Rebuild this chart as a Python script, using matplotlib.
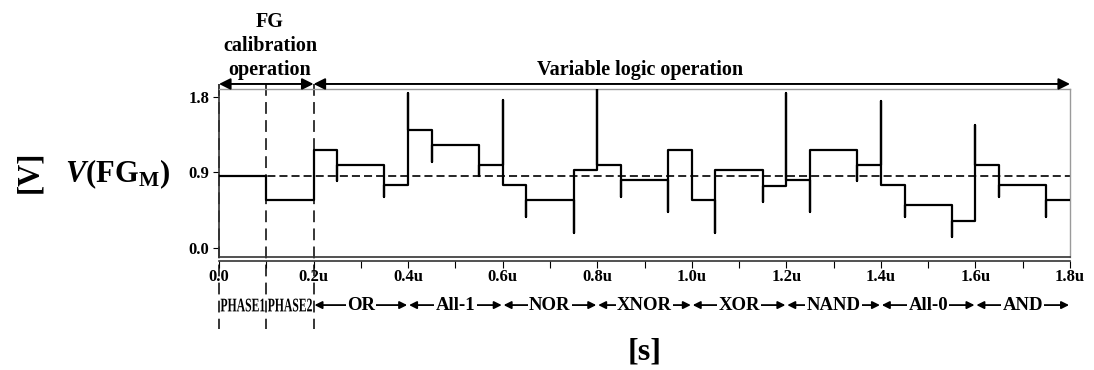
import numpy as np
import matplotlib
matplotlib.use("Agg")
import matplotlib.pyplot as plt
from matplotlib.ticker import FuncFormatter, MultipleLocator
from matplotlib.textpath import TextPath
from matplotlib.patches import PathPatch
from matplotlib.font_manager import FontProperties
from matplotlib.transforms import Affine2D, IdentityTransform

# step waveform (time in us)
edges = [0, 0.1, 0.2, 0.25, 0.35, 0.4, 0.45, 0.55, 0.6, 0.65, 0.75, 0.8, 0.85,
         0.95, 1.0, 1.05, 1.15, 1.2, 1.25, 1.35, 1.4, 1.45, 1.55, 1.6, 1.65, 1.75, 1.8]
levels = [0.86, 0.57, 1.16, 0.98, 0.75, 1.40, 1.22, 0.98, 0.75, 0.57, 0.93, 0.98, 0.81,
          1.16, 0.57, 0.93, 0.74, 0.81, 1.16, 0.98, 0.75, 0.51, 0.32, 0.98, 0.75, 0.57]
# glitch peaks at each inner edge (nan = none)
spikes = [np.nan, np.nan, 0.79, 0.61, 1.85, 1.02, 0.86, 1.76, 0.37, 0.18, 1.89, 0.61,
          0.42, np.nan, 0.18, 0.55, 1.84, 0.42, 0.79, 1.75, 0.37, 0.13, 1.46, 0.60, 0.37]
ref_level = 0.86

phase_bounds = [0.0, 0.1, 0.2]
phase_names = ['PHASE1', 'PHASE2']
op_bounds = [0.2, 0.4, 0.6, 0.8, 1.0, 1.2, 1.4, 1.6, 1.8]
op_names = ['OR', 'All-1', 'NOR', 'XNOR', 'XOR', 'NAND', 'All-0', 'AND']

plt.rcParams['font.family'] = ['Liberation Serif', 'DejaVu Serif']
plt.rcParams['font.weight'] = 'bold'
plt.rcParams['mathtext.fontset'] = 'custom'
plt.rcParams['mathtext.rm'] = 'Liberation Serif:bold'
plt.rcParams['mathtext.it'] = 'Liberation Serif:italic:bold'
plt.rcParams['mathtext.bf'] = 'Liberation Serif:bold'
plt.rcParams['lines.scale_dashes'] = False

fig = plt.figure(figsize=(10.94, 3.70), dpi=100)
ax = fig.add_axes([219 / 1094, 1 - 256.5 / 370, 851 / 1094, 167.5 / 370])

# build the waveform path
xs, ys = [edges[0]], [levels[0]]
for i, t in enumerate(edges[1:-1]):
    pk = levels[i] if np.isnan(spikes[i]) else spikes[i]
    xs += [t, t, t]
    ys += [levels[i], pk, levels[i + 1]]
xs.append(edges[-1])
ys.append(levels[-1])
ax.plot(xs, ys, color='black', lw=1.6, zorder=3)

ax.axhline(ref_level, color='black', lw=1.2, dashes=(5.8, 2.9), zorder=2)

ax.set_xlim(0, 1.8)
ax.set_ylim(-0.105, 1.892)

ax.xaxis.set_major_locator(MultipleLocator(0.2))
ax.xaxis.set_minor_locator(MultipleLocator(0.1))
ax.xaxis.set_major_formatter(FuncFormatter(lambda v, _: '0.0' if abs(v) < 1e-9 else f'{v:.1f}u'))
ax.set_yticks([0.0, 0.9, 1.8])
ax.yaxis.set_major_formatter(FuncFormatter(lambda v, _: f'{v:.1f}'))
ax.tick_params(axis='both', which='both', direction='out', labelsize=12, colors='black')
ax.tick_params(axis='x', which='both', length=5, width=0.8, pad=1)
ax.tick_params(axis='y', length=4, width=0.8, pad=3)

for s in ['top', 'right']:
    ax.spines[s].set_color('#9a9a9a')
    ax.spines[s].set_linewidth(1.0)
ax.spines['left'].set_color('#333333')
ax.spines['left'].set_linewidth(1.2)
ax.spines['bottom'].set_position(('outward', 3))
ax.spines['bottom'].set_color('#333333')
ax.spines['bottom'].set_linewidth(1.2)
ax.axhline(-0.105, color='#333333', lw=1.2, clip_on=False, zorder=4)

tx = ax.get_xaxis_transform()

# long dashed phase separators
for b in phase_bounds:
    ax.plot([b, b], [1.03, -0.43], transform=tx, color='black', lw=1.1,
            dashes=(8.5, 4.5), clip_on=False, zorder=2)

# top arrows
arrow_kw = dict(arrowstyle='<|-|>', color='black', lw=1.4, mutation_scale=17,
                shrinkA=0, shrinkB=0)
ax.annotate('', xy=(0.0, 1.03), xytext=(0.2, 1.03), xycoords=tx, textcoords=tx,
            arrowprops=arrow_kw, annotation_clip=False)
ax.annotate('', xy=(0.2, 1.03), xytext=(1.8, 1.03), xycoords=tx, textcoords=tx,
            arrowprops=arrow_kw, annotation_clip=False)
ax.text(0.108, 1.255, 'FG\ncalibration\noperation', transform=tx, ha='center', va='center',
        fontsize=14.5, fontweight='bold', linespacing=1.28)
ax.text(0.89, 1.115, 'Variable logic operation', transform=tx, ha='center', va='center',
        fontsize=14.5, fontweight='bold')

# phase labels are condensed: draw them as squeezed text paths
yl = -0.29
fp = FontProperties(family='Liberation Serif', weight='bold')
for i, name in enumerate(phase_names):
    cx = (phase_bounds[i] + phase_bounds[i + 1]) / 2
    px, py = tx.transform((cx, yl))
    tp = TextPath((0, 0), name, size=20, prop=fp)
    bb = tp.get_extents()
    sx = 44.0 / bb.width
    sy = 13.0 / bb.height
    tr = Affine2D().translate(-bb.x0 - bb.width / 2, -bb.y0 - bb.height / 2) \
        .scale(sx, sy).translate(px, py)
    fig.patches.append(PathPatch(tr.transform_path(tp), transform=IdentityTransform(),
                                 facecolor='black', edgecolor='none', figure=fig))

small_kw = dict(arrowstyle='<|-|>', color='black', lw=1.3, mutation_scale=11,
                shrinkA=0, shrinkB=0)
for i, name in enumerate(op_names):
    a, b = op_bounds[i], op_bounds[i + 1]
    ax.annotate('', xy=(a + 0.002, yl), xytext=(b - 0.002, yl), xycoords=tx, textcoords=tx,
                arrowprops=small_kw, annotation_clip=False)
    ax.text((a + b) / 2, yl, name, transform=tx, ha='center', va='center', fontsize=13.5,
            fontweight='bold', bbox=dict(facecolor='white', edgecolor='none', pad=1.0))

fig.text(30 / 1094, 1 - 172 / 370, '[V]', rotation=90, ha='center', va='center',
         fontsize=22, fontweight='bold')
fig.text(117 / 1094, 1 - 174 / 370, r'$\mathit{V}\mathrm{(FG}_{\mathrm{M}}\mathrm{)}$',
         ha='center', va='center', fontsize=22)
fig.text(645 / 1094, 1 - 352 / 370, '[s]', ha='center', va='center',
         fontsize=23, fontweight='bold')

fig.savefig('out.png', dpi=100)
